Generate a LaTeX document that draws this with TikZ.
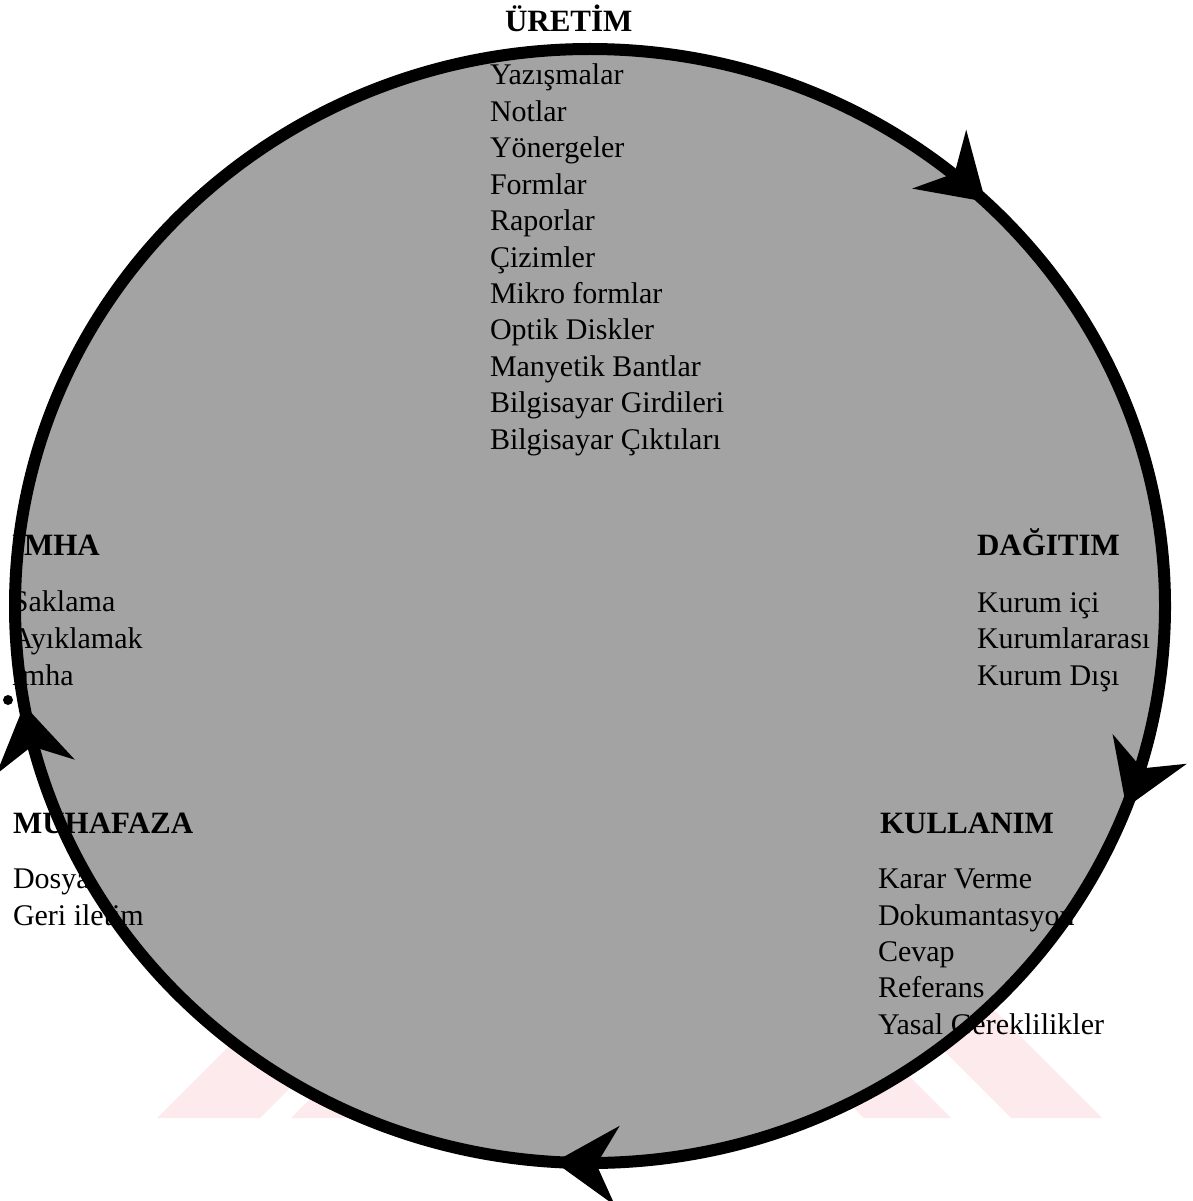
\documentclass[tikz,border=0pt]{standalone}
\usepackage{fontspec}
\setmainfont{Liberation Serif}
\usetikzlibrary{arrows.meta,decorations.markings}
\definecolor{fillgray}{gray}{0.64}
\definecolor{wmpink}{RGB}{252,234,237}
\newcommand\cyctip{\arrowreversed{Stealth[length=63pt,width=80pt,inset=21pt,line width=0pt]}}
\tikzset{
  lbl/.style={anchor=base west, inner sep=0pt, outer sep=0pt, font=\fontsize{30}{36}\selectfont},
  hd/.style={anchor=base west, inner sep=0pt, outer sep=0pt, font=\fontsize{31}{36}\selectfont\bfseries},
  rim/.style={line width=12pt, draw=black},
  wm/.style={fill=wmpink},
  cycarrows/.style={postaction={decorate}, decoration={markings,
     mark=at position 0.128 with {\cyctip},
     mark=at position 0.528 with {\cyctip},
     mark=at position 0.740 with {\cyctip},
     mark=at position 0.942 with {\cyctip}}}
}
\begin{document}
\begin{tikzpicture}[x=1pt,y=1pt]
\useasboundingbox (0,0) rectangle (1192,-1201);
% faint watermark (visible only outside the disc)
\fill[wm] (157,-1118) -- (260,-1118) -- (633,-745) -- (530,-745) -- cycle;
\fill[wm] (291,-1118) -- (394,-1118) -- (767,-745) -- (664,-745) -- cycle;
\fill[wm] (864,-1118) -- (951,-1118) -- (578,-745) -- (491,-745) -- cycle;
\fill[wm] (1011,-1118) -- (1102,-1118) -- (729,-745) -- (638,-745) -- cycle;

\coordinate (c) at (590,-606);
\fill[fillgray] (c) ellipse [x radius=575, y radius=557];

% URETIM
\node[hd] (uretim) at (505,-32) {ÜRETİM};
\foreach \t [count=\k from 0] in {Yazışmalar, Notlar, Yönergeler, Formlar, Raporlar, Çizimler, Mikro formlar, Optik Diskler, Manyetik Bantlar, Bilgisayar Girdileri, Bilgisayar Çıktıları}
  \node[lbl] (u\k) at (490,{-(85+36.4*\k)}) {\t};

% DAGITIM
\node[hd] (dagitim) at (977,-555) {DAĞITIM};
\node[lbl] (d1) at (977,-612) {Kurum içi};
\node[lbl] (d2) at (977,-648) {Kurumlararası};
\node[lbl] (d3) at (977,-685) {Kurum Dışı};

% KULLANIM
\node[hd] (kullanim) at (880,-833) {KULLANIM};
\node[lbl] (k1) at (878,-888) {Karar Verme};
\node[lbl] (k2) at (878,-925) {Dokumantasyon};
\node[lbl] (k3) at (878,-961) {Cevap};
\node[lbl] (k4) at (878,-997) {Referans};
\node[lbl] (k5) at (878,-1034) {Yasal Gereklilikler};

% MUHAFAZA
\node[hd] (muhafaza) at (13,-833) {MUHAFAZA};
\node[lbl] (m1) at (13,-888) {Dosya};
\node[lbl] (m2) at (13,-925) {Geri iletim};

% IMHA
\node[hd] (imha) at (12,-555) {İMHA};
\node[lbl] (i1) at (12,-611) {Saklama};
\node[lbl] (i2) at (12,-648) {Ayıklamak};
\node[lbl] (i3) at (12,-685) {İmha};

% rim with arrowheads
\draw[rim, cycarrows] (c) ellipse [x radius=575, y radius=557];
\fill (8,-700) circle (5);
\end{tikzpicture}
\end{document}
